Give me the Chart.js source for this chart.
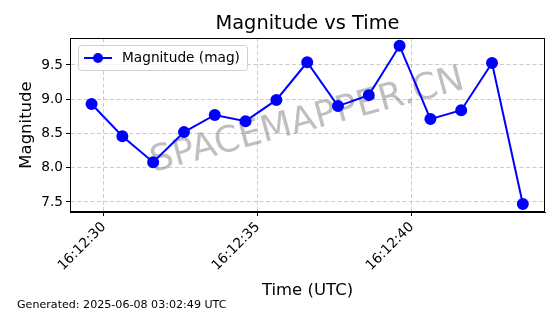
<!DOCTYPE html>
<html>
<head>
<meta charset="utf-8">
<script src="https://cdn.jsdelivr.net/npm/chart.js@4"></script>
<style>
  html, body { margin: 0; padding: 0; background: #fff; }
  #wrap { width: 560px; height: 314px; }
</style>
</head>
<body>
<div id="wrap"><canvas id="magChart" width="560" height="314"></canvas></div>
<script>
// seconds after 16:12:00 UTC
const timeSeconds = [29.6, 30.6, 31.6, 32.6, 33.6, 34.6, 35.6, 36.6, 37.6, 38.6, 39.6, 40.6, 41.6, 42.6, 43.6];
const magnitudes = [8.93, 8.46, 8.08, 8.52, 8.77, 8.68, 8.99, 9.54, 8.90, 9.06, 9.78, 8.71, 8.84, 9.53, 7.47];
const xTicks = [30, 35, 40];
const yTicks = [7.5, 8.0, 8.5, 9.0, 9.5];
const seriesLabel = 'Magnitude (mag)';
const footerText = 'Generated: 2025-06-08 03:02:49 UTC';
const watermark = 'SPACEMAPPER.CN';

const FONT = "'DejaVu Sans', sans-serif";

function fmtTime(s) {
  const ss = Math.round(s);
  return '16:12:' + String(ss).padStart(2, '0');
}

// frame, titles, legend, watermark, footer
const decorations = {
  id: 'decorations',
  beforeDatasetsDraw(chart) {
    const { ctx, chartArea: a } = chart;
    ctx.save();
    ctx.translate((a.left + a.right) / 2, (a.top + a.bottom) / 2 - 4);
    ctx.rotate(-15 * Math.PI / 180);
    ctx.font = '36px ' + FONT;
    ctx.fillStyle = 'rgba(128,128,128,0.5)';
    ctx.textAlign = 'center';
    ctx.textBaseline = 'middle';
    ctx.fillText(watermark, 0, 0);
    ctx.restore();
  },
  afterDraw(chart) {
    const { ctx, chartArea: a } = chart;
    ctx.save();
    // frame
    ctx.strokeStyle = '#000';
    ctx.lineWidth = 1;
    ctx.strokeRect(a.left + 0.5, a.top + 0.5, a.right - a.left - 1, a.bottom - a.top - 1);

    // title
    ctx.fillStyle = '#000';
    ctx.textAlign = 'center';
    ctx.textBaseline = 'alphabetic';
    ctx.font = '19.4px ' + FONT;
    ctx.fillText('Magnitude vs Time', (a.left + a.right) / 2, 29);

    // axis titles
    ctx.font = '16.5px ' + FONT;
    ctx.fillText('Time (UTC)', (a.left + a.right) / 2, 295);
    ctx.save();
    ctx.translate(31, (a.top + a.bottom) / 2);
    ctx.rotate(-Math.PI / 2);
    ctx.fillText('Magnitude', 0, 0);
    ctx.restore();

    // footer
    ctx.font = '11.1px ' + FONT;
    ctx.textAlign = 'left';
    ctx.fillText(footerText, 17, 308);

    // legend
    const lx = a.left + 8, ly = a.top + 7, lw = 169, lh = 25;
    ctx.beginPath();
    ctx.roundRect(lx + 0.5, ly + 0.5, lw, lh, 3);
    ctx.fillStyle = 'rgba(255,255,255,0.8)';
    ctx.fill();
    ctx.strokeStyle = '#d0d0d0';
    ctx.stroke();
    const cy = ly + lh / 2 + 0.5;
    ctx.strokeStyle = '#0000ff';
    ctx.lineWidth = 2;
    ctx.beginPath();
    ctx.moveTo(lx + 6, cy);
    ctx.lineTo(lx + 34, cy);
    ctx.stroke();
    ctx.fillStyle = '#0000ff';
    ctx.beginPath();
    ctx.arc(lx + 20, cy, 5, 0, Math.PI * 2);
    ctx.fill();
    ctx.fillStyle = '#000';
    ctx.font = '13.7px ' + FONT;
    ctx.textBaseline = 'middle';
    ctx.fillText(seriesLabel, lx + 44, cy);
    ctx.restore();
  }
};

const gridOpts = {
  color: '#cccccc',
  tickColor: '#000',
  tickBorderDash: [],
  tickLength: 4
};

new Chart(document.getElementById('magChart'), {
  type: 'line',
  data: {
    datasets: [{
      label: seriesLabel,
      data: timeSeconds.map((t, i) => ({ x: t, y: magnitudes[i] })),
      borderColor: '#0000ff',
      backgroundColor: '#0000ff',
      borderWidth: 2,
      pointRadius: 5,
      pointHoverRadius: 5,
      tension: 0
    }]
  },
  options: {
    responsive: false,
    animation: false,
    devicePixelRatio: 1,
    layout: { padding: { top: 38, right: 15, left: 0, bottom: 0 } },
    plugins: {
      legend: { display: false },
      title: { display: false },
      tooltip: { enabled: false }
    },
    scales: {
      x: {
        type: 'linear',
        min: 28.9,
        max: 44.32,
        afterBuildTicks(scale) {
          scale.ticks = xTicks.map(v => ({ value: v }));
        },
        afterFit(scale) { scale.height = 102; },
        border: { display: true, color: '#000', dash: [4, 2.5] },
        grid: gridOpts,
        ticks: {
          color: '#000',
          font: { family: FONT, size: 13.7 },
          maxRotation: 45,
          minRotation: 45,
          padding: 3,
          callback: v => fmtTime(v)
        }
      },
      y: {
        min: 7.354,
        max: 9.894,
        afterBuildTicks(scale) {
          scale.ticks = yTicks.map(v => ({ value: v }));
        },
        afterFit(scale) { scale.width = 70; },
        border: { display: true, color: '#000', dash: [4, 2.5] },
        grid: gridOpts,
        ticks: {
          color: '#000',
          font: { family: FONT, size: 13.7 },
          padding: 3,
          callback: v => v.toFixed(1)
        }
      }
    }
  },
  plugins: [decorations]
});
</script>
</body>
</html>
